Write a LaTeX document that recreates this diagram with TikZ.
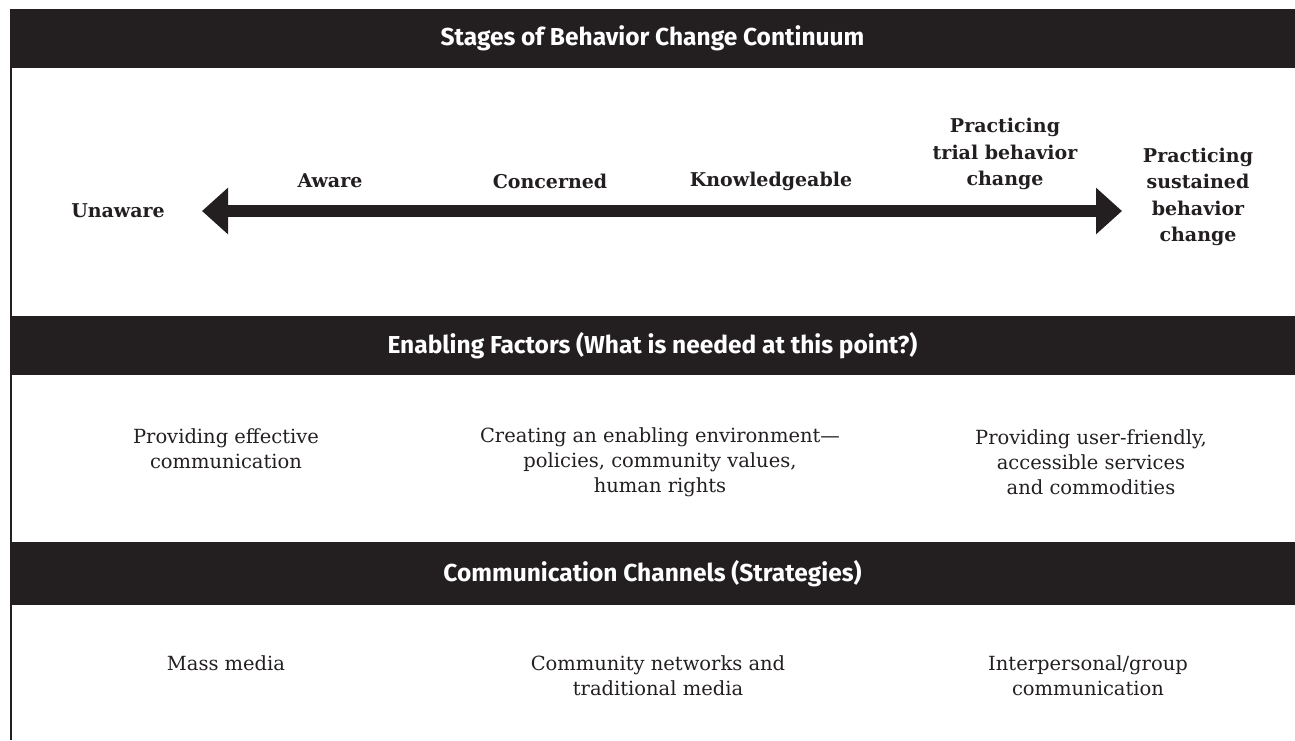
\documentclass[tikz,border=0pt]{standalone}
\usepackage{fontspec}
\setmainfont{DejaVu Serif}
\setsansfont{Fira Sans}
\usetikzlibrary{arrows.meta}
\definecolor{ink}{HTML}{231F20}
\begin{document}
\begin{tikzpicture}[x=1pt,y=-1pt,
  bar/.style={fill=ink,draw=none},
  headtext/.style={text=white,font=\sffamily\bfseries\fontsize{24.5}{28}\selectfont,inner sep=0pt},
  stage/.style={text=ink,font=\bfseries\fontsize{19}{26.5}\selectfont,align=center,inner sep=0pt},
  body/.style={text=ink,font=\fontsize{19.5}{25}\selectfont,align=center,inner sep=0pt},
  bigarrow/.style={ink,line width=12pt,{Triangle[length=26pt,width=45pt]}-{Triangle[length=26pt,width=45pt]}}]
\useasboundingbox (0,0) rectangle (1295,740);
% left rule
\coordinate (lt) at (11,68);
\coordinate (lb) at (11,740);
\draw[ink,line width=1.5pt] (lt) -- (lb);
% bars
\fill[bar] (10,9) rectangle (1295,68);
\fill[bar] (10,316) rectangle (1295,375);
\fill[bar] (10,542) rectangle (1295,605);
\node[headtext] (h1) at (652.5,38.5) {Stages of Behavior Change Continuum};
\node[headtext] (h2) at (652.5,345.5) {Enabling Factors (What is needed at this point?)};
\node[headtext] (h3) at (652.5,573.5) {Communication Channels (Strategies)};
% arrow
\coordinate (aL) at (202,211);
\coordinate (aR) at (1122,211);
\draw[bigarrow] (aL) -- (aR);
% stages
\node[stage] (s0) at (118,211) {Unaware};
\node[stage] (s1) at (330,181) {Aware};
\node[stage] (s2) at (550,181) {Concerned};
\node[stage] (s3) at (771,181) {Knowledgeable};
\node[stage] (s4) at (1005,154) {Practicing\\trial behavior\\change};
\node[stage] (s5) at (1198,197) {Practicing\\sustained\\behavior\\change};
% enabling factors
\node[body] (e1) at (226,449) {Providing effective\\communication};
\node[body] (e2) at (660,462) {Creating an enabling environment---\\policies, community values,\\human rights};
\node[body] (e3) at (1091,462) {Providing user-friendly,\\accessible services\\and commodities};
% channels
\node[body] (c1) at (226,663) {Mass media};
\node[body] (c2) at (658,676) {Community networks and\\traditional media};
\node[body] (c3) at (1088,676) {Interpersonal/group\\communication};
\end{tikzpicture}
\end{document}
